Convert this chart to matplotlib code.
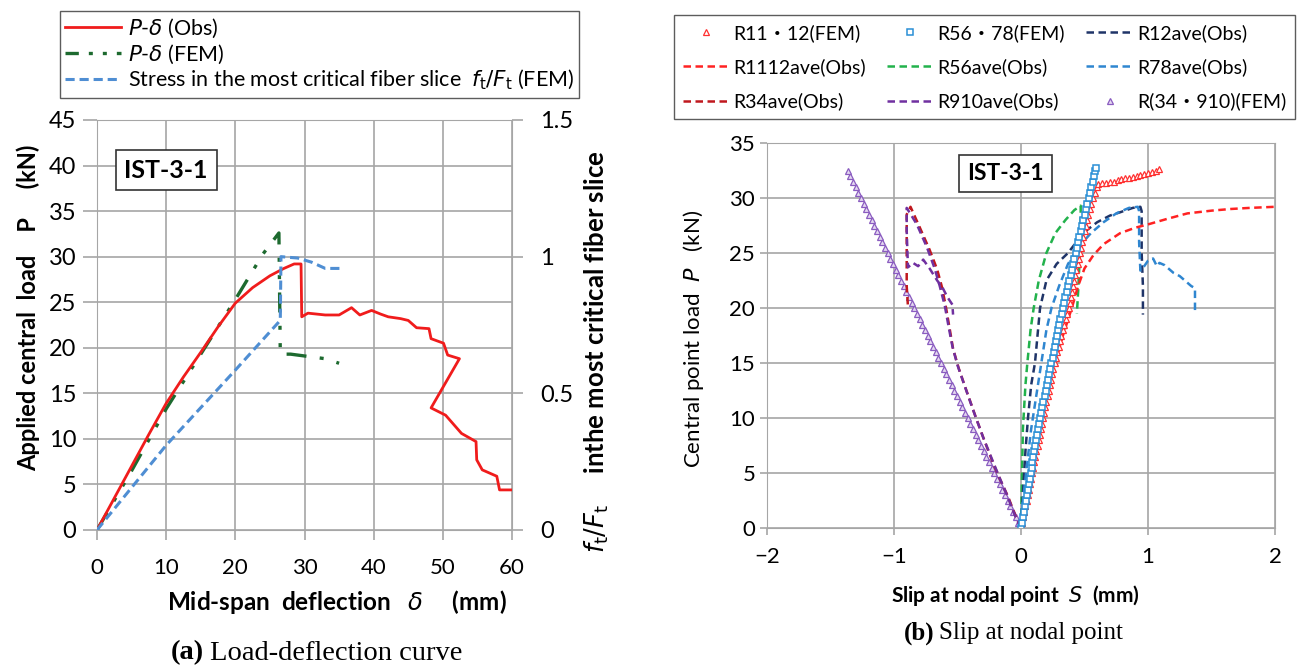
import matplotlib
matplotlib.use('Agg')
import matplotlib.pyplot as plt
from matplotlib.lines import Line2D

plt.rcParams['font.family'] = ['Lato', 'Noto Sans CJK JP', 'DejaVu Sans']
plt.rcParams['mathtext.fontset'] = 'dejavusans'

# (a) load-deflection
obs_d = [0, 2.5, 5, 7.5, 10, 12.5, 15, 17.5, 20, 22.5, 25, 27, 28.5, 29.5, 29.6, 30.5, 33, 35, 36.8, 38,
         39.7, 41, 42.1, 43.9, 45, 46.2, 48, 48.3, 50.1, 50.7, 52.4, 48.3, 50.4, 52.7, 54.8, 54.9, 55.7,
         57.8, 58.2, 60.1]
obs_p = [0, 3.5, 7.0, 10.5, 13.9, 16.8, 19.5, 22.3, 24.9, 26.6, 27.9, 28.7, 29.2, 29.2, 23.4, 23.8, 23.6,
         23.6, 24.4, 23.6, 24.1, 23.7, 23.4, 23.2, 23.0, 22.2, 22.1, 21.0, 20.5, 19.2, 18.8, 13.4, 12.6,
         10.6, 9.7, 7.7, 6.6, 5.9, 4.4, 4.4]
fem_d = [0, 5, 10, 15, 20, 22, 24, 26.3, 26.5, 28, 33, 35]
fem_p = [0, 6.5, 13.3, 19.3, 25.3, 27.8, 30.3, 32.6, 19.3, 19.3, 18.8, 18.3]
str_d = [0, 10, 20, 26.5, 26.6, 29, 31, 33, 35.5]
str_r = [0, 0.31, 0.585, 0.767, 1.0, 0.995, 0.98, 0.957, 0.957]

# (b) slip at nodal point
r1112fem_s = [0, 0.009, 0.017, 0.026, 0.035, 0.044, 0.052, 0.061, 0.07, 0.079, 0.087, 0.096, 0.105, 0.114,
              0.122, 0.131, 0.14, 0.147, 0.155, 0.162, 0.17, 0.18, 0.19, 0.2, 0.21, 0.219, 0.228, 0.236,
              0.245, 0.255, 0.265, 0.275, 0.285, 0.296, 0.307, 0.318, 0.33, 0.341, 0.352, 0.364, 0.375,
              0.384, 0.392, 0.401, 0.41, 0.419, 0.428, 0.436, 0.445, 0.454, 0.462, 0.471, 0.48, 0.49, 0.5,
              0.51, 0.52, 0.531, 0.542, 0.553, 0.565, 0.58, 0.597, 0.61,
              0.64, 0.67, 0.70, 0.73, 0.76, 0.79, 0.82, 0.85, 0.88, 0.91, 0.94, 0.97, 1.0, 1.03, 1.06, 1.09]
r1112fem_p = [0, 0.5, 1, 1.5, 2, 2.5, 3, 3.5, 4, 4.5, 5, 5.5, 6, 6.5,
              7, 7.5, 8, 8.5, 9, 9.5, 10, 10.5, 11, 11.5, 12, 12.5, 13, 13.5,
              14, 14.5, 15, 15.5, 16, 16.5, 17, 17.5, 18, 18.5, 19, 19.5, 20,
              20.5, 21, 21.5, 22, 22.5, 23, 23.5, 24, 24.5, 25, 25.5, 26, 26.5, 27,
              27.5, 28, 28.5, 29, 29.5, 30, 30.5, 31, 31.3,
              31.35, 31.4, 31.45, 31.5, 31.6, 31.7, 31.8, 31.85, 31.95, 32.0, 32.1, 32.2, 32.3, 32.4, 32.5, 32.6]
r5678fem_s = [0, 0.008, 0.015, 0.023, 0.03, 0.038, 0.045, 0.053, 0.06, 0.068, 0.075, 0.083, 0.09, 0.098,
              0.105, 0.113, 0.12, 0.128, 0.135, 0.143, 0.15, 0.159, 0.168, 0.177, 0.186, 0.195, 0.204,
              0.212, 0.221, 0.23, 0.24, 0.249, 0.257, 0.266, 0.274, 0.283, 0.291, 0.3, 0.31, 0.32, 0.33,
              0.34, 0.35, 0.36, 0.37, 0.38, 0.39, 0.4, 0.41, 0.42, 0.43, 0.44, 0.45, 0.46, 0.47, 0.48,
              0.49, 0.5, 0.51, 0.522, 0.533, 0.544, 0.555, 0.566, 0.577, 0.586, 0.59]
r5678fem_p = [0, 0.5, 1, 1.5, 2, 2.5, 3, 3.5, 4, 4.5, 5, 5.5, 6, 6.5,
              7, 7.5, 8, 8.5, 9, 9.5, 10, 10.5, 11, 11.5, 12, 12.5, 13,
              13.5, 14, 14.5, 15, 15.5, 16, 16.5, 17, 17.5, 18, 18.5, 19, 19.5, 20,
              20.5, 21, 21.5, 22, 22.5, 23, 23.5, 24, 24.5, 25, 25.5, 26, 26.5, 27, 27.5,
              28, 28.5, 29, 29.5, 30, 30.5, 31, 31.5, 32, 32.5, 32.7]
r34910fem_s = [0, -0.021, -0.042, -0.063, -0.084, -0.105, -0.126, -0.147, -0.168, -0.189, -0.21, -0.231,
               -0.252, -0.273, -0.294, -0.315, -0.336, -0.357, -0.378, -0.399, -0.42, -0.441, -0.462,
               -0.483, -0.504, -0.525, -0.546, -0.567, -0.588, -0.609, -0.63, -0.651, -0.672, -0.693,
               -0.714, -0.735, -0.756, -0.777, -0.798, -0.819, -0.84, -0.861, -0.882, -0.903, -0.924,
               -0.945, -0.966, -0.987, -1.008, -1.029, -1.05, -1.071, -1.092, -1.113, -1.134, -1.155,
               -1.176, -1.197, -1.218, -1.239, -1.26, -1.281, -1.302, -1.323, -1.344, -1.36]
r34910fem_p = [0, 0.5, 1, 1.5, 2, 2.5, 3, 3.5, 4, 4.5, 5, 5.5,
               6, 6.5, 7, 7.5, 8, 8.5, 9, 9.5, 10, 10.5, 11,
               11.5, 12, 12.5, 13, 13.5, 14, 14.5, 15, 15.5, 16, 16.5,
               17, 17.5, 18, 18.5, 19, 19.5, 20, 20.5, 21, 21.5, 22,
               22.5, 23, 23.5, 24, 24.5, 25, 25.5, 26, 26.5, 27, 27.5,
               28, 28.5, 29, 29.5, 30, 30.5, 31, 31.5, 32, 32.5]
r12_s = [0, 0.01, 0.02, 0.035, 0.055, 0.08, 0.11, 0.13, 0.15, 0.2, 0.28, 0.37, 0.45, 0.51, 0.6, 0.7,
         0.78, 0.88, 0.94, 0.95, 0.95, 0.96, 0.96]
r12_p = [0, 2, 4, 7, 10, 13, 15, 17.5, 20, 22.5, 24, 25, 26.2, 27, 27.8, 28.4,
         28.7, 29.1, 29.2, 28.8, 25, 22, 19.4]
r1112_s = [0, 0.04, 0.08, 0.13, 0.17, 0.22, 0.27, 0.33, 0.40, 0.45, 0.5, 0.57, 0.65, 0.78, 0.9, 1.0,
           1.15, 1.31, 1.5, 1.65, 1.8, 2.0]
r1112_p = [0, 3, 6, 9, 10, 12.5, 15, 17.5, 20, 22, 23.6, 24.8, 25.8, 26.8, 27.3, 27.6,
           28.1, 28.6, 28.85, 29.0, 29.1, 29.2]
r56_s = [0, 0.005, 0.01, 0.015, 0.02, 0.035, 0.05, 0.075, 0.1, 0.14, 0.2, 0.27, 0.35, 0.42, 0.47,
         0.47, 0.46, 0.45, 0.44]
r56_p = [0, 3, 6, 9, 10, 13, 15, 18, 20, 22.5, 25, 26.8, 28, 28.9, 29.3,
         27, 24, 21.5, 19.5]
r78_s = [0, 0.02, 0.05, 0.08, 0.12, 0.16, 0.2, 0.24, 0.3, 0.37, 0.45, 0.55, 0.65, 0.75, 0.85, 0.92,
         0.93, 0.93, 0.94, 0.97, 1.0, 1.04, 1.07, 1.09, 1.13, 1.17, 1.2, 1.25, 1.28, 1.31, 1.34, 1.37,
         1.37, 1.37]
r78_p = [0, 3, 6, 9, 12, 15, 18, 20, 22, 24, 25.5, 26.8, 27.8, 28.6, 29.1, 29.2,
         28.8, 26, 23.4, 23.8, 24.3, 24.5, 23.8, 24.1, 23.9, 23.5, 23.2, 22.9, 22.6, 22.3, 22.0, 21.8,
         20.6, 19.5]
r34_s = [0, -0.04, -0.1, -0.16, -0.22, -0.29, -0.36, -0.43, -0.49, -0.535, -0.56, -0.59, -0.62, -0.66,
         -0.72, -0.8, -0.87, -0.9, -0.9, -0.9, -0.89]
r34_p = [0, 1, 2.8, 4.3, 5.9, 8, 10.2, 12.5, 14.5, 16.3, 18, 20, 21.8, 23.5,
         25.3, 27.4, 29.2, 28.5, 25, 22, 20.1]
r910_s = [0, -0.05, -0.11, -0.17, -0.23, -0.3, -0.37, -0.44, -0.5, -0.54, -0.57, -0.6, -0.64, -0.68,
          -0.74, -0.82, -0.9, -0.9, -0.89, -0.85, -0.81, -0.77, -0.72, -0.66, -0.62, -0.58, -0.54, -0.535]
r910_p = [0, 1.2, 3, 4.6, 6.3, 8.3, 10.5, 12.8, 14.8, 16.5, 18.3, 20.2, 22, 23.6,
          25.5, 27.6, 29.1, 27, 23.7, 24.1, 23.8, 24.4, 23.6, 22.5, 21.9, 21, 20.3, 19.4]

W, H = 1299, 665
fig = plt.figure(figsize=(W / 100, H / 100), dpi=100)
grid_c = '#a6a6a6'

# ---- (a)
ax = fig.add_axes([97 / W, 1 - 530 / H, (512 - 97) / W, (530 - 120) / H])
ax.set_xlim(0, 60)
ax.set_ylim(0, 45)
ax.set_xticks(range(0, 61, 10))
ax.set_yticks(range(0, 46, 5))
ax.grid(True, color=grid_c, lw=1.2)
for s in ax.spines.values():
    s.set_color(grid_c)
ax.tick_params(axis='y', colors=grid_c, labelcolor='black', length=10, width=1.2, labelsize=17, pad=5)
ax.tick_params(axis='x', colors=grid_c, labelcolor='black', length=7, width=1.2, labelsize=16, pad=13)
ax.plot(obs_d, obs_p, color='#f01c1c', lw=2, zorder=4)
ax.plot(fem_d, fem_p, color='#1d6a2f', lw=2.4, dashes=(6, 4, 1.2, 4, 1.2, 4), zorder=3)
axr = ax.twinx()
axr.set_ylim(0, 1.5)
axr.set_yticks([0, 0.5, 1, 1.5])
axr.set_yticklabels(['0', '0.5', '1', '1.5'])
for s in axr.spines.values():
    s.set_visible(False)
axr.tick_params(colors=grid_c, labelcolor='black', length=8, width=1.2, labelsize=17, pad=12)
axr.plot(str_d, str_r, color='#4f8ed3', lw=2.2, dashes=(3, 1.6), zorder=3)
ax.text(10, 39.5, 'IST-3-1', ha='center', va='center', fontsize=18, fontweight='bold',
        bbox=dict(boxstyle='square,pad=0.35', fc='white', ec='#333333', lw=1.2))

fig.text(28 / W, 1 - 308 / H, 'Applied central  load    P     (kN)', rotation=90,
         ha='center', va='center', fontsize=17, fontweight='bold')
fig.text(597 / W, 1 - 352 / H, r'$f_\mathrm{t}/F_\mathrm{t}$     inthe most critical fiber slice', rotation=90,
         ha='center', va='center', fontsize=18.5, fontweight='bold')
fig.text(337 / W, 1 - 602 / H, r'Mid-span  deflection   $\delta$     (mm)', ha='center', va='center',
         fontsize=17.5, fontweight='bold')

leg_a = [Line2D([], [], color='#f01c1c', lw=2),
         Line2D([], [], color='#1d6a2f', lw=2.4, dashes=(4, 3, 1.2, 3, 1.2, 3)),
         Line2D([], [], color='#4f8ed3', lw=2.2, dashes=(3, 1.6))]
fig.legend(leg_a, [r'$P$-$\delta$ (Obs)', r'$P$-$\delta$ (FEM)',
                   r'Stress in the most critical fiber slice  $f_\mathrm{t}/F_\mathrm{t}$ (FEM)'],
           loc='upper left', bbox_to_anchor=(60 / W, 1 - 11 / H), fontsize=15.5, frameon=True,
           fancybox=False, edgecolor='#333333', handlelength=2.6, labelspacing=0.12,
           borderpad=0.25, handletextpad=0.3, borderaxespad=0)

# ---- (b)
bx = fig.add_axes([767 / W, 1 - 528 / H, (1275 - 767) / W, (528 - 143) / H])
bx.set_xlim(-2, 2)
bx.set_ylim(0, 35)
bx.set_xticks([-2, -1, 0, 1, 2])
bx.set_xticklabels(['\u22122', '\u22121', '0', '1', '2'])
bx.set_yticks(range(0, 36, 5))
bx.grid(True, color=grid_c, lw=1.2)
for s in bx.spines.values():
    s.set_color(grid_c)
bx.tick_params(colors=grid_c, labelcolor='black', length=5, width=1.2, labelsize=16)
bx.tick_params(axis='x', pad=9)

dash = (3, 1.8)
c_r34 = '#c0181e'
c_r910 = '#7030a0'
c_r12 = '#1f3468'
c_r1112 = '#ff2222'
c_r56 = '#22b24c'
c_r78 = '#2f86d0'
h_fem3, = bx.plot(r34910fem_s, r34910fem_p, ls='none', marker='^', ms=5, mfc='#e4d8f0',
                  mec='#8a5cc0', mew=0.9)
h_r34, = bx.plot(r34_s, r34_p, color=c_r34, lw=1.8, dashes=dash)
h_r910, = bx.plot(r910_s, r910_p, color=c_r910, lw=1.8, dashes=dash)
h_r56, = bx.plot(r56_s, r56_p, color=c_r56, lw=1.8, dashes=dash)
h_r12, = bx.plot(r12_s, r12_p, color=c_r12, lw=1.8, dashes=dash)
h_r78, = bx.plot(r78_s, r78_p, color=c_r78, lw=1.8, dashes=dash)
h_r1112, = bx.plot(r1112_s, r1112_p, color=c_r1112, lw=1.8, dashes=dash)
h_fem1, = bx.plot(r1112fem_s, r1112fem_p, ls='none', marker='^', ms=5, mfc='white',
                  mec='#ff3030', mew=0.9)
h_fem2, = bx.plot(r5678fem_s, r5678fem_p, ls='none', marker='s', ms=4.5, mfc='white',
                  mec='#2a8fd6', mew=1.1)
bx.text(-0.12, 32.2, 'IST-3-1', ha='center', va='center', fontsize=16.5, fontweight='bold',
        bbox=dict(boxstyle='square,pad=0.35', fc='white', ec='#333333', lw=1.2))

fig.text(693 / W, 1 - 339 / H, r'Central point load  $P$   (kN)', rotation=90, ha='center',
         va='center', fontsize=16)
fig.text(1015 / W, 1 - 595 / H, r'Slip at nodal point  $S$  (mm)', ha='center', va='center',
         fontsize=15, fontweight='bold')

handles_b = [h_fem1, h_r1112, h_r34, h_fem2, h_r56, h_r910, h_r12, h_r78, h_fem3]
labels_b = ['R11\u30fb12(FEM)', 'R1112ave(Obs)', 'R34ave(Obs)',
            'R56\u30fb78(FEM)', 'R56ave(Obs)', 'R910ave(Obs)',
            'R12ave(Obs)', 'R78ave(Obs)', 'R(34\u30fb910)(FEM)']
fig.legend(handles_b, labels_b, ncol=3, mode='expand', loc='upper left',
           bbox_to_anchor=(674 / W, 1 - 15 / H, (1295 - 674) / W, 0), fontsize=14,
           frameon=True, fancybox=False, edgecolor='#333333', handlelength=2.4,
           labelspacing=0.85, borderpad=0.45, handletextpad=0.2, borderaxespad=0,
           markerscale=1.0)

# captions
fig.text(171 / W, 1 - 653 / H, '(a)', ha='left', va='center', fontsize=20.5,
         fontweight='bold', family='Liberation Serif')
fig.text(210 / W, 1 - 653 / H, 'Load-deflection curve', ha='left', va='center', fontsize=20.5,
         family='Liberation Serif')
fig.text(904 / W, 1 - 633 / H, '(b)', ha='left', va='center', fontsize=18,
         fontweight='bold', family='Liberation Serif')
fig.text(939 / W, 1 - 633 / H, 'Slip at nodal point', ha='left', va='center', fontsize=18,
         family='Liberation Serif')

fig.savefig('out.png', dpi=100)
